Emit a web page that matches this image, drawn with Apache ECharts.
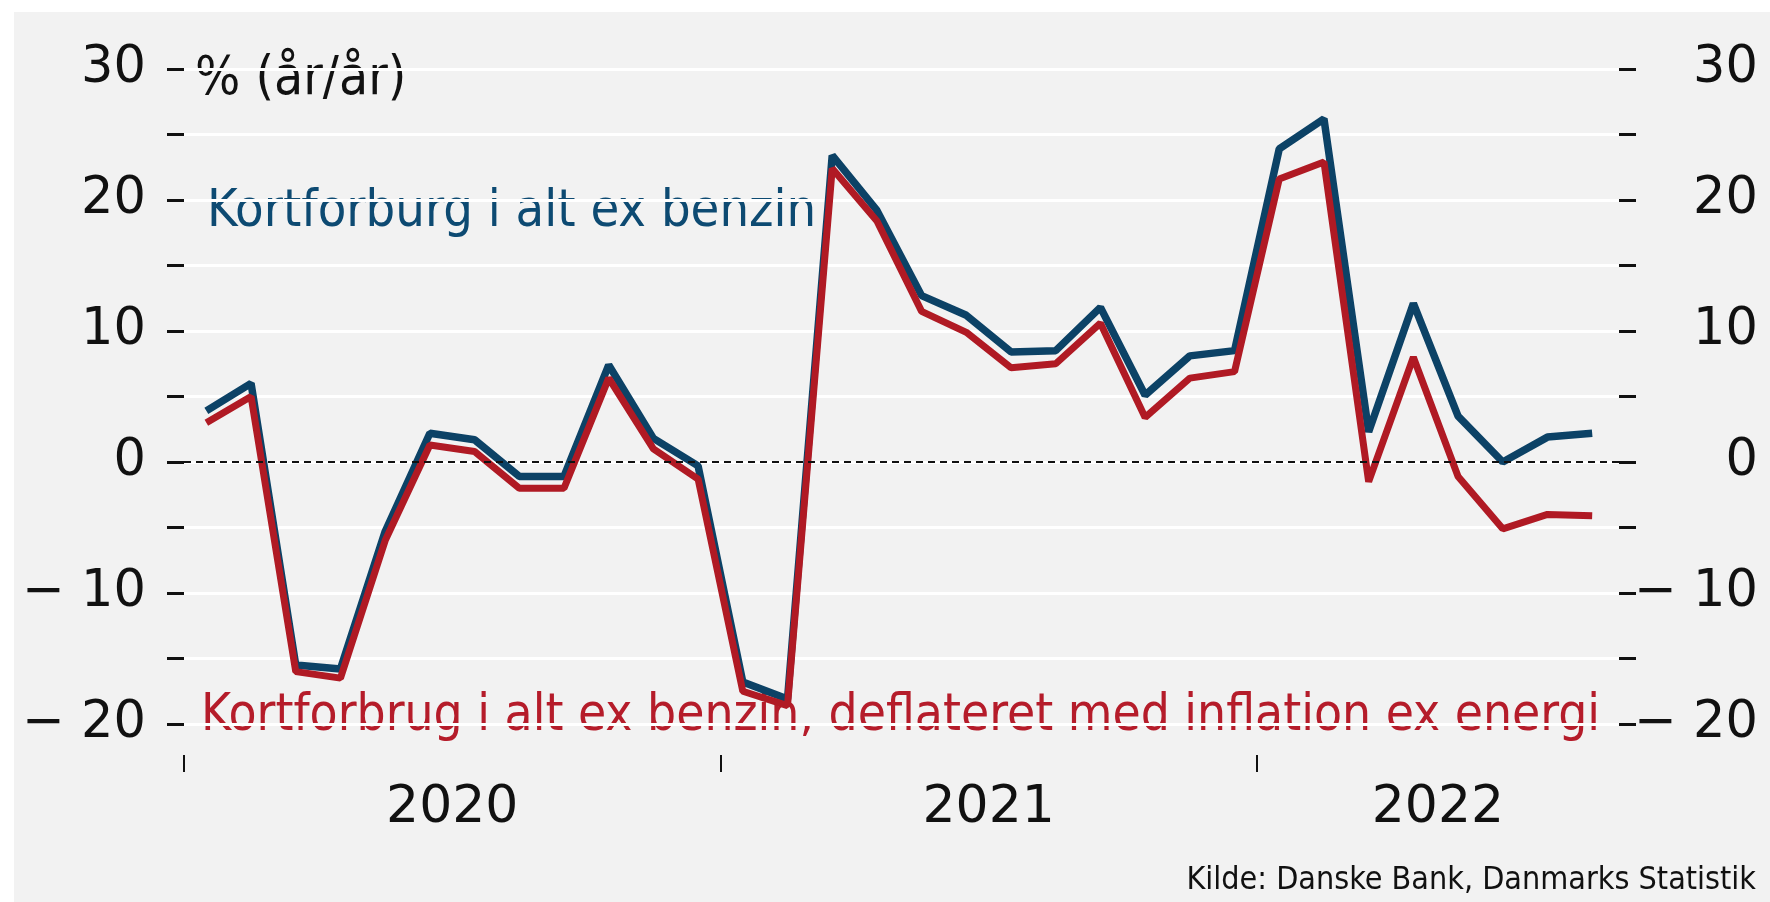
<!DOCTYPE html>
<html>
<head>
<meta charset="utf-8">
<script src="https://cdn.jsdelivr.net/npm/echarts@6/dist/echarts.min.js"></script>
<style>
html, body { margin: 0; padding: 0; background: #fff; }
#main { width: 1770px; height: 902px; }
</style>
</head>
<body>
<div id="main"></div>
<script>
// månedlige observationer, jan 2020 - aug 2022
var months = ['2020-01','2020-02','2020-03','2020-04','2020-05','2020-06','2020-07','2020-08','2020-09','2020-10','2020-11','2020-12',
              '2021-01','2021-02','2021-03','2021-04','2021-05','2021-06','2021-07','2021-08','2021-09','2021-10','2021-11','2021-12',
              '2022-01','2022-02','2022-03','2022-04','2022-05','2022-06','2022-07','2022-08'];
// Kortforbrug i alt ex benzin, % år/år
var kortforbrug = [3.9, 6.0, -15.5, -15.8, -5.3, 2.2, 1.7, -1.1, -1.1, 7.4, 1.8, -0.3,
                   -16.8, -18.1, 23.4, 19.2, 12.7, 11.2, 8.4, 8.5, 11.8, 5.1, 8.1, 8.5,
                   23.9, 26.2, 2.3, 12.1, 3.5, 0.0, 1.9, 2.2];
// deflateret med inflation ex energi
var deflateret = [3.0, 5.0, -16.0, -16.5, -6.0, 1.3, 0.8, -2.0, -2.0, 6.4, 1.0, -1.3,
                  -17.5, -18.6, 22.4, 18.4, 11.5, 9.9, 7.2, 7.5, 10.6, 3.4, 6.4, 6.9,
                  21.6, 22.9, -1.5, 8.0, -1.1, -5.1, -4.0, -4.1];
var years = ['2020', '2021', '2022'];
var yTicks = [-20, -10, 0, 10, 20, 30];

var xMax = 32.1;
var yearStarts = years.map(function (y) { return months.indexOf(y + '-01'); });
var yearMid = yearStarts.map(function (s, i) {
  var e = i < yearStarts.length - 1 ? yearStarts[i + 1] : xMax;
  return (s + e) / 2;
});

function pairs(arr) {
  return arr.map(function (v, i) { return [i + 0.5, v]; });
}
function yFmt(v) {
  if (yTicks.indexOf(v) < 0) return '';
  return v < 0 ? '\u2212 ' + Math.abs(v) : String(v);
}

var numFont = 'DejaVu Sans';
var txtFont = "'Liberation Sans Narrow', 'DejaVu Sans Condensed', 'Liberation Sans', sans-serif";

var chart = echarts.init(document.getElementById('main'));
var option = {
  animation: false,
  backgroundColor: '#fff',
  grid: { left: 184, right: 151, top: 69, bottom: 178 },
  xAxis: {
    type: 'value',
    min: 0,
    max: xMax,
    offset: 31,
    axisLine: { show: false, onZero: false },
    splitLine: { show: false },
    axisTick: { customValues: yearStarts, length: 17, lineStyle: { color: '#111', width: 2 } },
    axisLabel: {
      customValues: yearMid,
      margin: 27,
      fontFamily: numFont,
      fontSize: 52,
      color: '#111',
      formatter: function (v) {
        for (var i = 0; i < yearMid.length; i++) {
          if (Math.abs(yearMid[i] - v) < 0.01) return years[i];
        }
        return '';
      }
    }
  },
  yAxis: [{
    type: 'value',
    min: -20,
    max: 30,
    interval: 5,
    position: 'left',
    axisLine: { show: false },
    axisTick: { show: true, length: 17, lineStyle: { color: '#111', width: 3 } },
    splitLine: { lineStyle: { color: '#fff', width: 3 } },
    axisLabel: { margin: 38, fontFamily: numFont, fontSize: 51, color: '#111', formatter: yFmt }
  }, {
    type: 'value',
    min: -20,
    max: 30,
    interval: 5,
    position: 'right',
    axisLine: { show: false },
    axisTick: { show: true, length: 17, lineStyle: { color: '#111', width: 3 } },
    splitLine: { show: false },
    axisLabel: { margin: 139, align: 'right', fontFamily: numFont, fontSize: 51, color: '#111', formatter: yFmt }
  }],
  series: [{
    type: 'line',
    data: [],
    z: 1,
    markLine: {
      silent: true,
      symbol: 'none',
      label: { show: false },
      lineStyle: { color: '#111', type: [7, 5], width: 2 },
      data: [{ yAxis: 0 }]
    }
  }, {
    name: 'Kortforburg i alt ex benzin',
    type: 'line',
    data: pairs(kortforbrug),
    showSymbol: false,
    z: 3,
    lineStyle: { color: '#0c4266', width: 7.5 }
  }, {
    name: 'Kortforbrug i alt ex benzin, deflateret med inflation ex energi',
    type: 'line',
    data: pairs(deflateret),
    showSymbol: false,
    z: 4,
    lineStyle: { color: '#b01a24', width: 7 }
  }],
  graphic: [
    { type: 'rect', z: -100, shape: { x: 14, y: 12, width: 1756, height: 890 }, style: { fill: '#f2f2f2' } },
    { type: 'text', style: { text: '% (år/år)', x: 195, y: 80, verticalAlign: 'middle', fill: '#111', fontSize: 53, fontFamily: txtFont } },
    { type: 'text', style: { text: 'Kortforburg i alt ex benzin', x: 207, y: 212, verticalAlign: 'middle', fill: '#0d4a72', fontSize: 52, fontFamily: txtFont } },
    { type: 'text', style: { text: 'Kortforbrug i alt ex benzin, deflateret med inflation ex energi', x: 201, y: 717, verticalAlign: 'middle', fill: '#b51c2a', fontSize: 51, fontFamily: txtFont } },
    { type: 'text', style: { text: 'Kilde: Danske Bank, Danmarks Statistik', x: 1756, y: 881, align: 'right', verticalAlign: 'middle', fill: '#111', fontSize: 32, fontFamily: txtFont } }
  ]
};
chart.setOption(option);
</script>
</body>
</html>
